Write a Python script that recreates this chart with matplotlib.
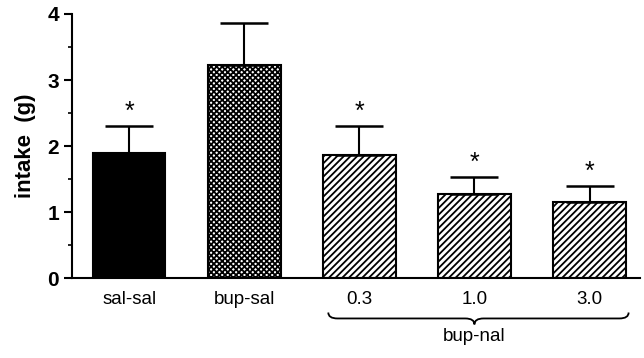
import matplotlib
matplotlib.use("Agg")
import matplotlib.pyplot as plt
from matplotlib.path import Path
from matplotlib.patches import PathPatch

labels = ["sal-sal", "bup-sal", "0.3", "1.0", "3.0"]
intake = [1.90, 3.22, 1.87, 1.28, 1.15]
sem = [0.40, 0.65, 0.43, 0.25, 0.24]
signif = [True, False, True, True, True]
group_label = "bup-nal"

plt.rcParams['font.family'] = ['Liberation Sans', 'DejaVu Sans']
plt.rcParams['hatch.linewidth'] = 1.3

fig = plt.figure(figsize=(6.44, 3.58), dpi=100)
ax = fig.add_axes([0.112, 0.223, 0.882, 0.738])

x = list(range(len(labels)))
fills = ["black", "white", "white", "white", "white"]
hatches = [None, "xxxxxx", "/////", "/////", "/////"]
for xi, v, f, h in zip(x, intake, fills, hatches):
    ax.bar(xi, v, width=0.63, color=f, edgecolor="black", linewidth=1.5,
           hatch=h, zorder=2)

ax.errorbar(x, intake, yerr=[[0] * len(sem), sem], fmt="none", ecolor="black",
            elinewidth=1.5, capsize=17, capthick=1.8, zorder=3)

for xi, v, s, star in zip(x, intake, sem, signif):
    if star:
        ax.text(xi, v + s + 0.04, "*", ha="center", va="bottom", fontsize=18)

ax.set_xlim(-0.496, 4.44)
ax.set_ylim(0, 4)
ax.set_yticks([0, 1, 2, 3, 4])
ax.set_yticks([0.5, 1.5, 2.5, 3.5], minor=True)
ax.set_xticks(x)
ax.set_xticklabels(labels, fontsize=13.5)
ax.tick_params(axis="x", length=0, pad=9)
ax.tick_params(axis="y", which="major", length=6, width=1.5, labelsize=15)
ax.tick_params(axis="y", which="minor", length=3, width=1.2)
for t in ax.get_yticklabels():
    t.set_fontweight("bold")
ax.set_ylabel("intake  (g)", fontsize=16, fontweight="bold", labelpad=8)

for s in ["top", "right"]:
    ax.spines[s].set_visible(False)
ax.spines["left"].set_linewidth(1.5)
ax.spines["bottom"].set_linewidth(1.5)

# curly brace under the bup-nal group
x0, x1, xc = 1.73, 4.34, 3.0
y0, h = -0.61, 0.09
d = 0.08
verts = [(x0, y0 + h), (x0, y0), (x0 + d, y0),
         (xc - d, y0), (xc, y0), (xc, y0 - h),
         (xc, y0), (xc + d, y0),
         (x1 - d, y0), (x1, y0), (x1, y0 + h)]
codes = [Path.MOVETO, Path.CURVE3, Path.CURVE3,
         Path.LINETO, Path.CURVE3, Path.CURVE3,
         Path.CURVE3, Path.CURVE3,
         Path.LINETO, Path.CURVE3, Path.CURVE3]
brace = PathPatch(Path(verts, codes), facecolor="none", edgecolor="black",
                  linewidth=1.3, clip_on=False)
ax.add_patch(brace)
ax.text(xc, y0 - h - 0.06, group_label, ha="center", va="top", fontsize=13.5,
        clip_on=False)

fig.savefig("out.png", dpi=100)
